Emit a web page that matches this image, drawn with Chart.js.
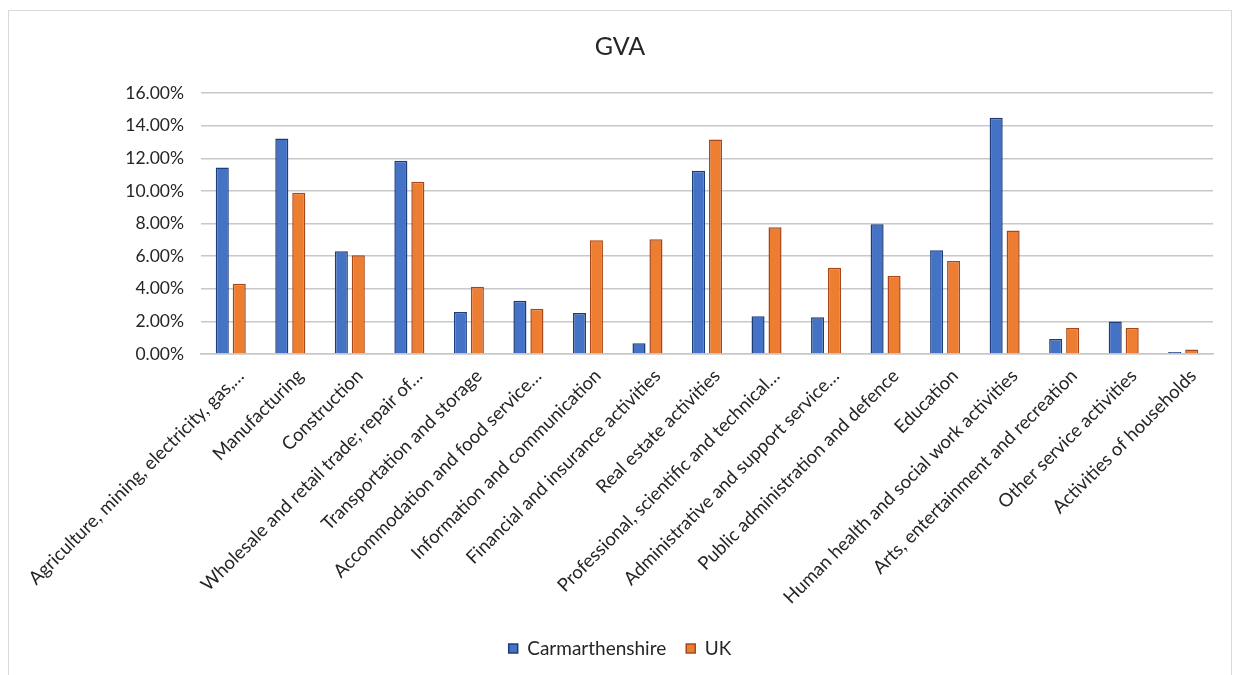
<!DOCTYPE html>
<html>
<head>
<meta charset="utf-8">
<script src="https://cdn.jsdelivr.net/npm/chart.js@4.4.1/dist/chart.umd.min.js"></script>
<style>
  html, body { margin: 0; padding: 0; background: #fff; }
  #frame {
    position: absolute; left: 8px; top: 10px;
    width: 1224px; height: 670px;
    border: 1px solid #d9d9d9; box-sizing: border-box;
  }
</style>
</head>
<body>
<div id="frame"><canvas id="gvaChart"></canvas></div>
<script>
// sectors (labels cut like in the original chart)
const sectors = [
  'Agriculture, mining, electricity, gas,…',
  'Manufacturing',
  'Construction',
  'Wholesale and retail trade; repair of…',
  'Transportation and storage',
  'Accommodation and food service…',
  'Information and communication',
  'Financial and insurance activities',
  'Real estate activities',
  'Professional, scientific and technical…',
  'Administrative and support service…',
  'Public administration and defence',
  'Education',
  'Human health and social work activities',
  'Arts, entertainment and recreation',
  'Other service activities',
  'Activities of households'
];

// share of GVA, in percent
const carmarthenshire = [11.43, 13.21, 6.30, 11.84, 2.58, 3.26, 2.52, 0.66, 11.24, 2.32, 2.26, 7.96, 6.36, 14.48, 0.92, 1.99, 0.12];
const uk = [4.31, 9.89, 6.05, 10.56, 4.12, 2.77, 6.97, 7.04, 13.15, 7.77, 5.29, 4.78, 5.70, 7.57, 1.60, 1.60, 0.27];

const yTicks = [0, 2, 4, 6, 8, 10, 12, 14, 16];

const ctx = document.getElementById('gvaChart').getContext('2d');
const gvaChart = new Chart(ctx, {
  type: 'bar',
  data: {
    labels: sectors,
    datasets: [{
      label: 'Carmarthenshire',
      data: carmarthenshire,
      backgroundColor: '#4472C4',
      borderColor: '#1f3c7a',
      borderWidth: 1.5,
      categoryPercentage: 0.57,
      barPercentage: 0.77
    }, {
      label: 'UK',
      data: uk,
      backgroundColor: '#ED7D31',
      borderColor: '#a8481a',
      borderWidth: 1.5,
      categoryPercentage: 0.57,
      barPercentage: 0.77
    }]
  },
  options: {
    responsive: true,
    maintainAspectRatio: false,
    animation: false,
    layout: { padding: { left: 18, right: 18, top: 10, bottom: 11 } },
    plugins: {
      title: {
        display: true,
        text: 'GVA',
        color: '#262626',
        font: { family: 'Lato', size: 25, weight: 'normal' },
        padding: { top: 11, bottom: 31 }
      },
      legend: {
        position: 'bottom',
        labels: {
          color: '#262626',
          font: { family: 'Lato', size: 19 },
          boxWidth: 9,
          boxHeight: 9,
          padding: 20
        }
      },
      tooltip: { enabled: false }
    },
    scales: {
      x: {
        afterFit: axis => { axis.height = 265; },
        grid: { display: false },
        border: { color: '#c8c8c8', width: 1.5 },
        ticks: {
          autoSkip: false,
          maxRotation: 45,
          minRotation: 45,
          labelOffset: 10,
          color: '#262626',
          font: { family: 'Lato', size: 18.5 }
        }
      },
      y: {
        min: 0,
        max: 16,
        afterFit: axis => { axis.width = 174; },
        afterBuildTicks: axis => { axis.ticks = yTicks.map(v => ({ value: v })); },
        grid: { color: '#c8c8c8', lineWidth: 1.5, drawTicks: false },
        border: { display: false },
        ticks: {
          padding: 17,
          color: '#262626',
          font: { family: 'Lato', size: 17.5 },
          callback: v => v.toFixed(2) + '%'
        }
      }
    }
  }
});
</script>
</body>
</html>
